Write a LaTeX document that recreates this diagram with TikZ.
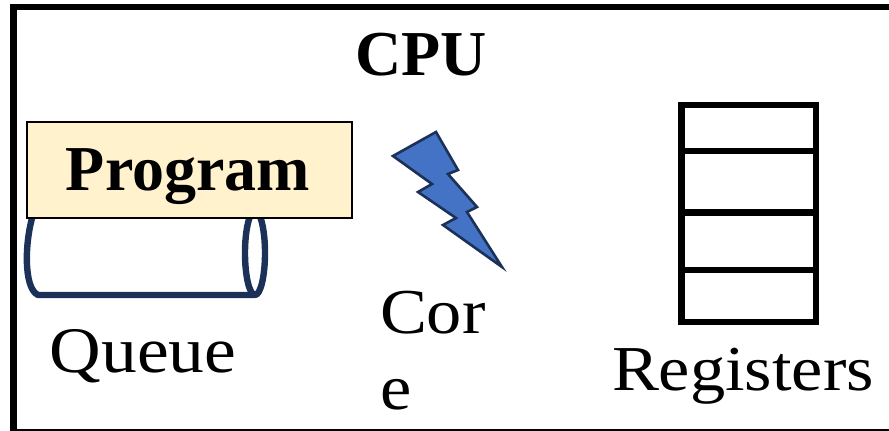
\documentclass[tikz,border=0pt]{standalone}
\usepackage{fontspec}
\setmainfont{Liberation Serif}
\newfontfamily\lblfont[FakeStretch=1.1]{Liberation Serif}
\usepackage{tikz}
\usetikzlibrary{positioning}
\definecolor{progfill}{HTML}{FFF2CC}
\definecolor{queueline}{HTML}{1B3158}
\definecolor{boltfill}{HTML}{4472C4}
\begin{document}
\begin{tikzpicture}[
  x=1pt, y=-1pt, outer sep=0pt,
  lbl/.style={font=\lblfont\fontsize{64}{76}\selectfont, inner sep=0pt, anchor=base},
  cpulbl/.style={font=\fontsize{64}{64}\selectfont\bfseries, inner sep=0pt, anchor=base},
  prog/.style={draw=black, line width=1.1pt, fill=progfill, align=center,
  minimum width=325pt, minimum height=96pt, inner sep=0pt},
  reg/.style={line width=6.7pt, draw=black},
  queue/.style={draw=queueline, line width=6.4pt, line join=round}]
\useasboundingbox (0,0) rectangle (889,431);
% frame
\node[draw=black, line width=6.7pt, minimum width=900pt, minimum height=425pt, inner sep=0pt, anchor=north west] (cpuframe) at (13.3,7) {};
\node[cpulbl] (cpu) at (421,75) {CPU};
% queue
\draw[queue] (33,215) .. controls (25,240) and (23,288) .. (38,295) -- (255,295);
\draw[queue] (255,253) ellipse [x radius=10, y radius=42];
\node[prog, anchor=north west] (program) at (27,122) {};
\node[cpulbl, font=\fontsize{64}{64}\selectfont\bfseries] (proglabel) at (188,190) {Program};
\node[lbl, font=\lblfont\fontsize{65}{76}\selectfont] (queuelabel) at (143,372) {Queue};
% bolt
\draw[draw=queueline, line width=2.6pt, fill=boltfill, line join=miter]
  (393,156) -- (436,132) -- (458,170) -- (448,174) -- (477,207) -- (467,212)
  -- (502,267) -- (443,225) -- (456,218) -- (418,192) -- (432,184) -- cycle;
\node[lbl, align=left, anchor=north west] (corelabel) at (380,291) {Cor\\e};
% registers
\node[reg, minimum width=134.5pt, minimum height=217pt, inner sep=0pt, anchor=north west] (regbox) at (681.5,105) {};
\coordinate (r1) at (regbox.west |- 0,151);
\coordinate (r2) at (regbox.west |- 0,212.3);
\coordinate (r3) at (regbox.west |- 0,270);
\foreach \n in {r1,r2,r3}
  \draw[reg] (\n) -- (\n -| regbox.east);
\node[lbl] (reglabel) at (743,390) {Registers};
\end{tikzpicture}
\end{document}
